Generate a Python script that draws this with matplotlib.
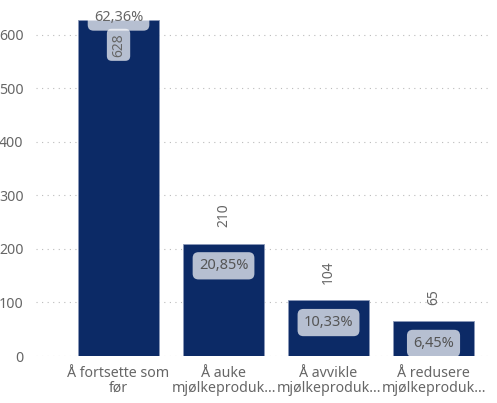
import numpy as np
import matplotlib.pyplot as plt

plt.rcParams['font.family'] = ['Noto Sans', 'DejaVu Sans']

categories = ['Å fortsette som\nfør', 'Å auke\nmjølkeproduk…',
              'Å avvikle\nmjølkeproduk…', 'Å redusere\nmjølkeproduk…']
counts = [628, 210, 104, 65]
percents = ['62,36%', '20,85%', '10,33%', '6,45%']

navy = '#0c2a66'
grey = '#666666'

fig = plt.figure(figsize=(4.97, 4.03), dpi=100)
ax = fig.add_axes([36 / 497, 1 - 356 / 403, 454 / 497, (356 - 15) / 403])

x = np.arange(len(categories))
bars = ax.bar(x, counts, width=0.771, color=navy, edgecolor='#8a98b8', linewidth=0.6, zorder=2)

ax.set_xlim(-0.786, 3.538)
ax.set_ylim(0, 637)
ax.set_yticks(np.arange(0, 601, 100))
ax.set_xticks(x)
ax.set_xticklabels(categories, fontsize=10.2, color=grey, linespacing=1.0)
ax.tick_params(axis='y', labelsize=10.2, labelcolor=grey, length=0, pad=9)
ax.tick_params(axis='x', length=0, pad=7)
ax.grid(axis='y', linestyle=(0, (1, 4)), color='#bbbbbb', linewidth=0.8, zorder=0)
for s in ax.spines.values():
    s.set_visible(False)


def pbox():
    return dict(boxstyle='round,pad=0.42,rounding_size=0.4', fc='white', ec='none', alpha=0.7)


for i, (b, c, p) in enumerate(zip(bars, counts, percents)):
    cx = b.get_x() + b.get_width() / 2
    top = b.get_height()
    if i == 0:
        # not enough room above, so the count goes inside
        ax.annotate(str(c), (cx, top), xytext=(0, -18), textcoords='offset points',
                    rotation=90, ha='center', va='center', fontsize=10, color=grey,
                    bbox=dict(boxstyle='round,pad=0.3,rounding_size=0.35', fc='white',
                              ec='none', alpha=0.7), zorder=4)
        ax.annotate(p, (cx, top), xytext=(0, 2), textcoords='offset points',
                    ha='center', va='center', fontsize=10.5, color=grey,
                    bbox=pbox(), zorder=5, annotation_clip=False)
    else:
        ax.annotate(str(c), (cx, top), xytext=(0, 12), textcoords='offset points',
                    rotation=90, ha='center', va='bottom', fontsize=10, color=grey, zorder=4)
        ax.annotate(p, (cx, top), xytext=(0, -16), textcoords='offset points',
                    ha='center', va='center', fontsize=10.5, color='#555555',
                    bbox=pbox(), zorder=4)

fig.savefig('out.png', dpi=100)
